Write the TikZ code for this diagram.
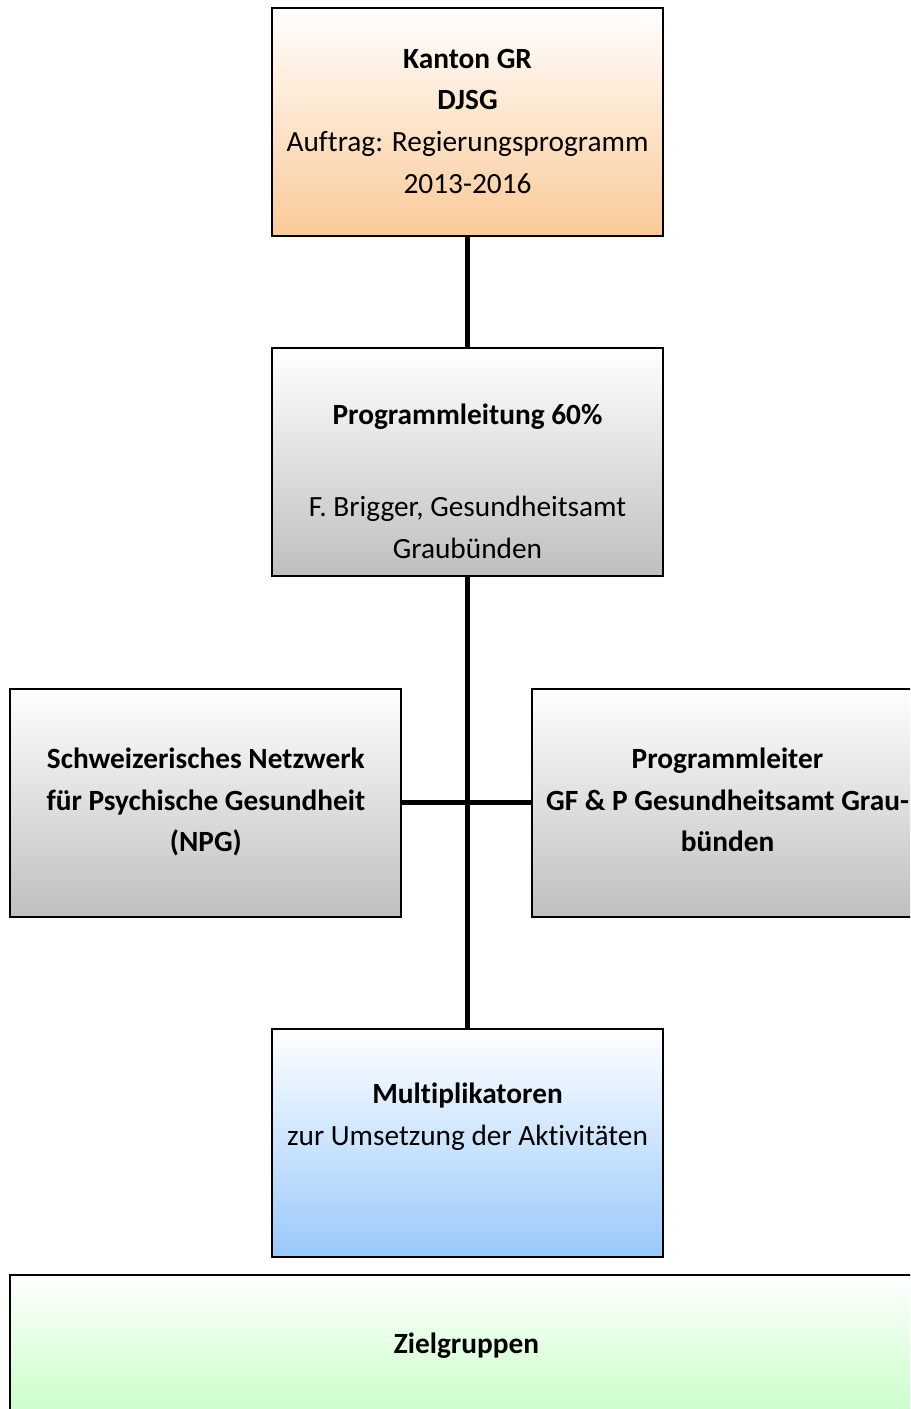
\documentclass[tikz,border=0pt]{standalone}
\usepackage{fontspec}
\setmainfont[Ligatures=NoCommon]{Carlito}

\definecolor{kantonorange}{RGB}{251,202,152}
\definecolor{leitgray}{RGB}{191,191,191}
\definecolor{multiblue}{RGB}{153,201,252}
\definecolor{zielgreen}{RGB}{200,255,200}

% box content: [width]{space above first line}{lines}
\newcommand{\boxtext}[3][146.6pt]{\parbox[c][85.5pt][t]{#1}{\centering\vspace*{#2}\strut#3}}

\begin{document}
\begin{tikzpicture}[x=0.375pt, y=-0.375pt, node distance=127.6pt,
    every node/.style={font=\fontsize{11pt}{15.6pt}\selectfont},
    orgbox/.style={rectangle, draw, line width=0.75pt, inner sep=0pt, top color=white},
    link/.style={line width=2.2pt}]
    \useasboundingbox (0,0) rectangle (910,1409);
    \clip (0,0) rectangle (910,1409);

    % Boxes
    \node (kanton) [orgbox, bottom color=kantonorange] at (467.5,122) {
        \boxtext{11.7pt}{\textbf{Kanton GR}\\
        \textbf{DJSG}\\
        Auftrag: Regierungsprogramm\\
        2013-2016}
    };

    \node (leitung) [orgbox, bottom color=leitgray, below of=kanton] {
        \boxtext{17.8pt}{\textbf{Programmleitung 60\%}\\[18.9pt]
        F. Brigger, Gesundheitsamt\\
        Graubünden}
    };

    \node (npg) [orgbox, bottom color=leitgray, below of=leitung, xshift=-98.1pt] {
        \boxtext{19.1pt}{\textbf{Schweizerisches Netzwerk}\\
        \textbf{für Psychische Gesundheit}\\
        \textbf{(NPG)}}
    };

    \node (prog) [orgbox, bottom color=leitgray, below of=leitung, xshift=97.5pt] {
        \boxtext{19.1pt}{\textbf{Programmleiter}\\
        \textbf{GF \& P Gesundheitsamt Grau-}\\
        \textbf{bünden}}
    };

    \node (multi) [orgbox, bottom color=multiblue, below of=leitung, yshift=-127.6pt] {
        \boxtext{17.2pt}{\textbf{Multiplikatoren}\\
        zur Umsetzung der Aktivitäten}
    };

    \node (ziel) [orgbox, bottom color=zielgreen] at (466.5,1345.5) {
        \parbox[c][52.9pt][t]{342.4pt}{\centering\vspace*{18.7pt}\strut\textbf{Zielgruppen}}
    };

    % Links
    \draw[link] (kanton) -- (leitung);
    \draw[link] (leitung) -- (multi);
    \draw[link] (npg) -- (prog);
\end{tikzpicture}
\end{document}
